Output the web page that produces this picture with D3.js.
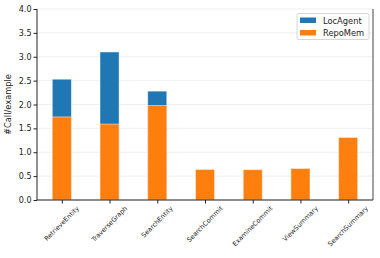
<!DOCTYPE html>
<html><head><meta charset="utf-8">
<script src="https://cdn.jsdelivr.net/npm/d3@7"></script>
<style>body{margin:0;background:#fff}svg{display:block;font-family:"DejaVu Sans",sans-serif}</style>
</head><body><svg id="c" width="380" height="258"></svg>
<script>
const categories = ["RetrieveEntity","TraverseGraph","SearchEntity","SearchCommit","ExamineCommit","ViewSummary","SearchSummary"];
const locAgent = [2.53, 3.10, 2.28, 0, 0, 0, 0];
const repoMem = [1.74, 1.59, 1.98, 0.64, 0.635, 0.66, 1.31];
const yTicks = [0,0.5,1.0,1.5,2.0,2.5,3.0,3.5,4.0];
const seriesNames = ["LocAgent","RepoMem"];
const colors = ["#1f77b4","#ff7f0e"];

const svg = d3.select("#c");
const L = 37, R = 373, T = 9, B = 200;
const x = d3.scaleLinear().domain([-0.52, 6.52]).range([L, R]);
const y = d3.scaleLinear().domain([0, 4]).range([B, T]);
const bw = x(0.4) - x(0);

// grid
svg.append("g").selectAll("line").data(yTicks).join("line")
  .attr("x1", L).attr("x2", R).attr("y1", d => y(d)).attr("y2", d => y(d))
  .attr("stroke", "#ebebeb").attr("stroke-width", 0.8);

// bars
[locAgent, repoMem].forEach((vals, si) => {
  svg.append("g").selectAll("rect").data(vals).join("rect")
    .attr("x", (d, i) => x(i) - bw / 2).attr("width", bw)
    .attr("y", d => y(d)).attr("height", d => y(0) - y(d))
    .attr("fill", colors[si]).attr("stroke", "#fff").attr("stroke-opacity", 0.6).attr("stroke-width", 0.8);
});

// axes
const ya = svg.append("g").attr("transform", `translate(${L},0)`)
  .call(d3.axisLeft(y).tickValues(yTicks).tickFormat(d3.format(".1f")).tickSize(3.5).tickPadding(2));
ya.select(".domain").attr("stroke", "#222").attr("d", `M0,${T}V${B}`);
ya.selectAll("text").attr("font-size", 8).attr("fill", "#222").attr("font-family", "DejaVu Sans");
ya.selectAll(".tick line").attr("stroke", "#222");

const xa = svg.append("g").attr("transform", `translate(0,${B})`)
  .call(d3.axisBottom(x).tickValues(d3.range(categories.length)).tickFormat("").tickSize(3.5));
xa.select(".domain").attr("stroke", "#222").attr("d", `M${L},0H${R}`);
xa.selectAll(".tick line").attr("stroke", "#222");

// right spine
svg.append("line").attr("x1", R).attr("x2", R).attr("y1", T).attr("y2", B).attr("stroke", "#444").attr("stroke-width", 1);

// x labels rotated
const fs = 6.5;
svg.append("g").selectAll("text").data(categories).join("text")
  .attr("font-size", fs).attr("fill", "#222").attr("text-anchor", "middle").attr("dominant-baseline", "central")
  .text(d => d)
  .each(function (d, i) {
    const len = this.getComputedTextLength();
    const h = (len + fs) * Math.SQRT1_2;
    const cx = x(i), cy = 205 + h / 2;
    d3.select(this).attr("x", cx).attr("y", cy).attr("transform", `rotate(-45,${cx},${cy})`);
  });

// y label
svg.append("text").attr("transform", `translate(11,${(T + B) / 2}) rotate(-90)`)
  .attr("text-anchor", "middle").attr("font-size", 8.3).attr("fill", "#222").text("#Call/example");

// legend
const lg = svg.append("g").attr("transform", "translate(297,13.5)");
lg.append("rect").attr("width", 72).attr("height", 26).attr("rx", 2).attr("fill", "#fff").attr("fill-opacity", 0.8)
  .attr("stroke", "#ccc").attr("stroke-width", 0.8);
seriesNames.forEach((n, i) => {
  lg.append("rect").attr("x", 3).attr("y", 4 + i * 12.5).attr("width", 16).attr("height", 5.5).attr("fill", colors[i]);
  lg.append("text").attr("x", 26).attr("y", 7 + i * 12.5).attr("dominant-baseline", "central")
    .attr("font-size", 8.3).attr("fill", "#222").text(n);
});
</script></body></html>
